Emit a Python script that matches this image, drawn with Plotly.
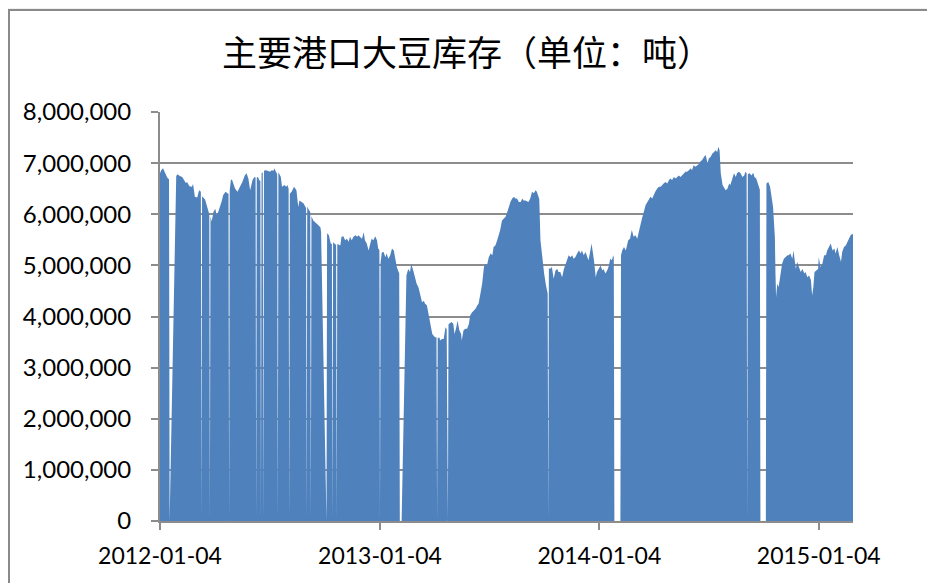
import plotly.graph_objects as go

# ---- data: daily port soybean stocks (tons); 0 = missing/holiday days ----
stock_2012 = [
    ("2012-01-04", 6800000), ("2012-01-06", 6860000), ("2012-01-09", 6900000), ("2012-01-12", 6820000),
    ("2012-01-16", 6720000), ("2012-01-19", 6680000), ("2012-01-20", 0), ("2012-01-31", 6750000),
    ("2012-02-02", 6780000), ("2012-02-06", 6750000), ("2012-02-10", 6730000), ("2012-02-13", 6670000),
    ("2012-02-16", 6610000), ("2012-02-18", 6630000), ("2012-02-22", 6550000), ("2012-02-26", 6540000),
    ("2012-02-28", 6590000), ("2012-03-02", 6340000), ("2012-03-06", 6330000), ("2012-03-09", 6470000),
    ("2012-03-12", 6440000), ("2012-03-13", 0), ("2012-03-14", 6350000), ("2012-03-19", 6290000),
    ("2012-03-22", 6140000), ("2012-03-25", 6050000), ("2012-03-26", 6000000), ("2012-03-27", 0),
    ("2012-03-28", 5950000), ("2012-03-30", 5860000), ("2012-04-02", 6050000), ("2012-04-05", 6110000),
    ("2012-04-07", 5980000), ("2012-04-10", 6050000), ("2012-04-13", 6140000), ("2012-04-16", 6270000),
    ("2012-04-18", 6370000), ("2012-04-22", 6440000), ("2012-04-25", 6410000), ("2012-04-27", 6400000),
    ("2012-04-28", 0), ("2012-04-29", 6470000), ("2012-05-01", 6680000), ("2012-05-03", 6670000),
    ("2012-05-08", 6500000), ("2012-05-12", 6440000), ("2012-05-16", 6540000), ("2012-05-20", 6630000),
    ("2012-05-24", 6760000), ("2012-05-27", 6800000), ("2012-05-30", 6700000), ("2012-06-02", 6470000),
    ("2012-06-06", 6670000), ("2012-06-09", 6730000), ("2012-06-11", 6720000), ("2012-06-12", 0),
    ("2012-06-13", 6720000), ("2012-06-15", 6730000), ("2012-06-17", 6670000), ("2012-06-19", 6650000),
    ("2012-06-20", 0), ("2012-06-21", 6800000), ("2012-06-23", 6820000), ("2012-06-24", 0),
    ("2012-06-25", 6850000), ("2012-06-28", 6860000), ("2012-07-01", 6850000), ("2012-07-05", 6830000),
    ("2012-07-08", 6860000), ("2012-07-11", 6850000), ("2012-07-12", 6900000), ("2012-07-15", 6830000),
    ("2012-07-17", 6780000), ("2012-07-18", 0), ("2012-07-19", 6820000), ("2012-07-20", 6800000),
    ("2012-07-23", 6730000), ("2012-07-25", 6540000), ("2012-07-29", 6570000), ("2012-08-01", 6540000),
    ("2012-08-03", 6570000), ("2012-08-05", 6500000), ("2012-08-06", 0), ("2012-08-07", 6400000),
    ("2012-08-10", 6440000), ("2012-08-14", 6540000), ("2012-08-18", 6470000), ("2012-08-21", 6140000),
    ("2012-08-23", 6270000), ("2012-08-27", 6240000), ("2012-08-30", 6210000), ("2012-09-02", 6140000),
    ("2012-09-03", 6120000), ("2012-09-04", 0), ("2012-09-05", 6150000), ("2012-09-08", 6080000),
    ("2012-09-10", 6050000), ("2012-09-11", 0), ("2012-09-12", 5960000), ("2012-09-15", 5880000),
    ("2012-09-18", 5850000), ("2012-09-21", 5820000), ("2012-09-24", 5780000), ("2012-09-27", 5740000),
    ("2012-09-28", 5650000), ("2012-10-07", 0), ("2012-10-08", 5630000), ("2012-10-11", 5590000),
    ("2012-10-14", 5430000), ("2012-10-16", 5420000), ("2012-10-17", 0), ("2012-10-18", 5450000),
    ("2012-10-22", 5410000), ("2012-10-23", 5400000), ("2012-10-24", 0), ("2012-10-25", 5420000),
    ("2012-10-27", 5410000), ("2012-10-30", 5390000), ("2012-11-01", 5560000), ("2012-11-04", 5570000),
    ("2012-11-07", 5490000), ("2012-11-10", 5520000), ("2012-11-13", 5460000), ("2012-11-15", 5560000),
    ("2012-11-18", 5490000), ("2012-11-21", 5560000), ("2012-11-24", 5590000), ("2012-11-27", 5560000),
    ("2012-11-29", 5590000), ("2012-12-02", 5560000), ("2012-12-05", 5520000), ("2012-12-08", 5650000),
    ("2012-12-10", 5490000), ("2012-12-13", 5430000), ("2012-12-16", 5290000), ("2012-12-19", 5430000),
    ("2012-12-21", 5520000), ("2012-12-24", 5490000), ("2012-12-27", 5570000), ("2012-12-30", 5490000),
]

stock_2013 = [
    ("2013-01-01", 5330000), ("2013-01-03", 5300000), ("2013-01-04", 0), ("2013-01-05", 5050000),
    ("2013-01-07", 5250000), ("2013-01-10", 5260000), ("2013-01-13", 5160000), ("2013-01-15", 5230000),
    ("2013-01-18", 5130000), ("2013-01-21", 5200000), ("2013-01-24", 5330000), ("2013-01-27", 5290000),
    ("2013-01-30", 5100000), ("2013-02-01", 4970000), ("2013-02-04", 4870000), ("2013-02-05", 4850000),
    ("2013-02-06", 0), ("2013-02-09", 0), ("2013-02-17", 4800000), ("2013-02-20", 4930000),
    ("2013-02-23", 4870000), ("2013-02-25", 5030000), ("2013-03-01", 4870000), ("2013-03-04", 4710000),
    ("2013-03-06", 4640000), ("2013-03-09", 4570000), ("2013-03-12", 4450000), ("2013-03-15", 4280000),
    ("2013-03-18", 4310000), ("2013-03-20", 4250000), ("2013-03-23", 4220000), ("2013-03-26", 4050000),
    ("2013-03-29", 3890000), ("2013-04-01", 3660000), ("2013-04-03", 3630000), ("2013-04-06", 3590000),
    ("2013-04-08", 3600000), ("2013-04-09", 0), ("2013-04-10", 3580000), ("2013-04-13", 3590000),
    ("2013-04-14", 3530000), ("2013-04-17", 3560000), ("2013-04-20", 3560000), ("2013-04-23", 3790000),
    ("2013-04-25", 3750000), ("2013-04-26", 0), ("2013-04-27", 0), ("2013-04-28", 3850000),
    ("2013-05-03", 3890000), ("2013-05-06", 3860000), ("2013-05-08", 3660000), ("2013-05-11", 3790000),
    ("2013-05-13", 3920000), ("2013-05-16", 3730000), ("2013-05-19", 3660000), ("2013-05-20", 3530000),
    ("2013-05-23", 3730000), ("2013-05-26", 3760000), ("2013-05-29", 3760000), ("2013-06-01", 3860000),
    ("2013-06-03", 4020000), ("2013-06-06", 4080000), ("2013-06-09", 4120000), ("2013-06-12", 4150000),
    ("2013-06-15", 4220000), ("2013-06-17", 4250000), ("2013-06-20", 4440000), ("2013-06-23", 4640000),
    ("2013-06-26", 4970000), ("2013-06-28", 5030000), ("2013-07-01", 5000000), ("2013-07-04", 5160000),
    ("2013-07-07", 5230000), ("2013-07-10", 5200000), ("2013-07-12", 5360000), ("2013-07-15", 5390000),
    ("2013-07-18", 5490000), ("2013-07-21", 5590000), ("2013-07-23", 5690000), ("2013-07-26", 5880000),
    ("2013-07-29", 5920000), ("2013-08-01", 5950000), ("2013-08-04", 6050000), ("2013-08-06", 6140000),
    ("2013-08-09", 6240000), ("2013-08-12", 6310000), ("2013-08-15", 6340000), ("2013-08-17", 6310000),
    ("2013-08-20", 6310000), ("2013-08-23", 6240000), ("2013-08-26", 6240000), ("2013-08-29", 6310000),
    ("2013-08-31", 6270000), ("2013-09-03", 6270000), ("2013-09-06", 6260000), ("2013-09-08", 6240000),
    ("2013-09-11", 6310000), ("2013-09-14", 6440000), ("2013-09-17", 6410000), ("2013-09-20", 6470000),
    ("2013-09-22", 6440000), ("2013-09-25", 6340000), ("2013-09-26", 6300000), ("2013-09-28", 5490000),
    ("2013-10-01", 5120000), ("2013-10-04", 4850000), ("2013-10-07", 4620000), ("2013-10-09", 4480000),
    ("2013-10-10", 4450000), ("2013-10-11", 0), ("2013-10-12", 4950000), ("2013-10-14", 4930000),
    ("2013-10-17", 4970000), ("2013-10-20", 4740000), ("2013-10-23", 4900000), ("2013-10-26", 4930000),
    ("2013-10-28", 4870000), ("2013-10-31", 4870000), ("2013-11-03", 4770000), ("2013-11-06", 4930000),
    ("2013-11-09", 5030000), ("2013-11-11", 5100000), ("2013-11-14", 5200000), ("2013-11-17", 5160000),
    ("2013-11-20", 5200000), ("2013-11-22", 5130000), ("2013-11-25", 5160000), ("2013-11-28", 5230000),
    ("2013-12-01", 5290000), ("2013-12-04", 5230000), ("2013-12-06", 5290000), ("2013-12-09", 5200000),
    ("2013-12-12", 5260000), ("2013-12-15", 5160000), ("2013-12-17", 5100000), ("2013-12-20", 5290000),
    ("2013-12-22", 5430000), ("2013-12-26", 5100000), ("2013-12-29", 4770000), ("2013-12-31", 4870000),
]

stock_2014 = [
    ("2014-01-03", 4930000), ("2014-01-06", 5000000), ("2014-01-09", 4900000), ("2014-01-11", 4930000),
    ("2014-01-14", 4840000), ("2014-01-17", 4900000), ("2014-01-20", 5000000), ("2014-01-22", 5130000),
    ("2014-01-25", 5100000), ("2014-01-27", 5200000), ("2014-01-28", 5150000), ("2014-01-29", 0),
    ("2014-02-08", 0), ("2014-02-09", 5200000), ("2014-02-11", 5290000), ("2014-02-14", 5360000),
    ("2014-02-17", 5290000), ("2014-02-19", 5430000), ("2014-02-21", 5490000), ("2014-02-24", 5520000),
    ("2014-02-27", 5690000), ("2014-03-02", 5560000), ("2014-03-05", 5590000), ("2014-03-08", 5520000),
    ("2014-03-11", 5690000), ("2014-03-13", 5820000), ("2014-03-16", 5920000), ("2014-03-19", 6050000),
    ("2014-03-22", 6180000), ("2014-03-25", 6240000), ("2014-03-28", 6310000), ("2014-03-30", 6340000),
    ("2014-04-02", 6310000), ("2014-04-05", 6410000), ("2014-04-07", 6440000), ("2014-04-10", 6500000),
    ("2014-04-13", 6540000), ("2014-04-16", 6540000), ("2014-04-18", 6570000), ("2014-04-21", 6600000),
    ("2014-04-24", 6630000), ("2014-04-27", 6600000), ("2014-04-30", 6670000), ("2014-05-02", 6700000),
    ("2014-05-05", 6670000), ("2014-05-08", 6730000), ("2014-05-11", 6700000), ("2014-05-14", 6730000),
    ("2014-05-16", 6760000), ("2014-05-19", 6730000), ("2014-05-22", 6760000), ("2014-05-25", 6800000),
    ("2014-05-27", 6830000), ("2014-05-30", 6830000), ("2014-06-02", 6860000), ("2014-06-05", 6900000),
    ("2014-06-07", 6860000), ("2014-06-10", 6960000), ("2014-06-13", 6930000), ("2014-06-16", 6960000),
    ("2014-06-19", 6990000), ("2014-06-21", 7030000), ("2014-06-24", 7060000), ("2014-06-27", 7120000),
    ("2014-06-30", 7160000), ("2014-07-03", 6990000), ("2014-07-05", 7090000), ("2014-07-08", 7120000),
    ("2014-07-11", 7190000), ("2014-07-14", 7220000), ("2014-07-16", 7250000), ("2014-07-19", 7220000),
    ("2014-07-21", 7320000), ("2014-07-23", 7250000), ("2014-07-25", 6800000), ("2014-07-28", 6570000),
    ("2014-07-31", 6500000), ("2014-08-02", 6470000), ("2014-08-05", 6500000), ("2014-08-08", 6600000),
    ("2014-08-10", 6570000), ("2014-08-13", 6700000), ("2014-08-16", 6800000), ("2014-08-19", 6730000),
    ("2014-08-21", 6800000), ("2014-08-24", 6830000), ("2014-08-27", 6800000), ("2014-08-30", 6730000),
    ("2014-09-02", 6760000), ("2014-09-04", 6830000), ("2014-09-06", 6800000), ("2014-09-07", 0),
    ("2014-09-08", 6780000), ("2014-09-11", 6800000), ("2014-09-14", 6760000), ("2014-09-17", 6810000),
    ("2014-09-19", 6730000), ("2014-09-22", 6700000), ("2014-09-25", 6600000), ("2014-09-27", 6500000),
    ("2014-09-28", 6480000), ("2014-09-29", 0), ("2014-10-08", 0), ("2014-10-09", 6600000),
    ("2014-10-12", 6630000), ("2014-10-15", 6540000), ("2014-10-17", 6410000), ("2014-10-20", 6140000),
    ("2014-10-22", 5750000), ("2014-10-23", 5560000), ("2014-10-24", 4840000), ("2014-10-25", 4380000),
    ("2014-10-27", 4640000), ("2014-10-29", 4570000), ("2014-10-31", 4710000), ("2014-11-02", 4930000),
    ("2014-11-04", 5030000), ("2014-11-07", 5130000), ("2014-11-10", 5160000), ("2014-11-13", 5200000),
    ("2014-11-15", 5200000), ("2014-11-18", 5230000), ("2014-11-21", 5130000), ("2014-11-23", 5290000),
    ("2014-11-25", 5100000), ("2014-11-27", 4930000), ("2014-11-29", 5070000), ("2014-12-02", 4970000),
    ("2014-12-05", 4870000), ("2014-12-08", 4930000), ("2014-12-11", 4840000), ("2014-12-13", 4870000),
    ("2014-12-16", 4770000), ("2014-12-19", 4800000), ("2014-12-22", 4710000), ("2014-12-24", 4410000),
    ("2014-12-26", 4570000), ("2014-12-28", 4870000), ("2014-12-31", 4900000),
]

stock_2015 = [
    ("2015-01-03", 4930000), ("2015-01-04", 5160000), ("2015-01-07", 4970000), ("2015-01-10", 5030000),
    ("2015-01-13", 5200000), ("2015-01-16", 5200000), ("2015-01-18", 5290000), ("2015-01-21", 5360000),
    ("2015-01-24", 5430000), ("2015-01-27", 5290000), ("2015-01-30", 5330000), ("2015-02-01", 5230000),
    ("2015-02-04", 5360000), ("2015-02-07", 5200000), ("2015-02-10", 5070000), ("2015-02-12", 5260000),
    ("2015-02-15", 5360000), ("2015-02-18", 5390000), ("2015-02-21", 5460000), ("2015-02-23", 5520000),
    ("2015-02-26", 5590000), ("2015-03-01", 5620000), ("2015-03-02", 5600000),
]

tick_dates = ["2012-01-04", "2013-01-04", "2014-01-04", "2015-01-04"]
title_text = "主要港口大豆库存（单位：吨）"

# ---- build ----
records = stock_2012 + stock_2013 + stock_2014 + stock_2015
dates = [r[0] for r in records]
values = [r[1] for r in records]

W, H = 935, 583
# the page body adds an 8px offset, so layout is expressed in figure coordinates
ML, MR, MT, MB = 152, 90, 104, 70
pw, ph = W - ML - MR, H - MT - MB

GRID = "#8c8c8c"
BLUE = "#4F81BD"

fig = go.Figure()
fig.add_trace(go.Scatter(
    x=dates, y=values, mode="lines", fill="tozeroy",
    line=dict(width=0, color=BLUE), fillcolor=BLUE,
    hoverinfo="skip", showlegend=False,
))

# white chart frame with grey border on a light-grey page
fig.add_shape(
    type="rect", xref="paper", yref="paper", layer="below",
    x0=(1 - ML) / pw, x1=(W + 20 - ML) / pw,
    y0=(H - MB - (H + 20)) / ph, y1=(H - MB - 2) / ph,
    fillcolor="white", line=dict(color="#8a8a8a", width=2),
)

fig.update_layout(
    width=W, height=H,
    margin=dict(l=ML, r=MR, t=MT, b=MB, autoexpand=False),
    paper_bgcolor="#f0f0f0", plot_bgcolor="white",
    title=dict(text=title_text, x=(467 - 8) / W, xref="container", xanchor="center",
               y=1 - 46 / H, yref="container", yanchor="middle",
               font=dict(family="Noto Sans CJK SC", size=35, color="black")),
    xaxis=dict(
        type="date", range=[dates[0], dates[-1]],
        tickvals=tick_dates, ticktext=tick_dates,
        showgrid=False, zeroline=False,
        showline=True, linecolor=GRID, linewidth=2,
        ticks="outside", ticklen=7, tickwidth=2, tickcolor=GRID,
        ticklabelstandoff=6,
        tickfont=dict(family="Lato", size=23, color="black"),
    ),
    yaxis=dict(
        range=[0, 8000000], dtick=1000000, tickformat=",",
        showgrid=True, gridcolor=GRID, gridwidth=2, zeroline=False,
        showline=True, linecolor=GRID, linewidth=2,
        ticks="outside", ticklen=7, tickwidth=2, tickcolor=GRID,
        ticklabelstandoff=15,
        tickfont=dict(family="Lato", size=24, color="black"),
    ),
)

fig.write_html("out.html")
